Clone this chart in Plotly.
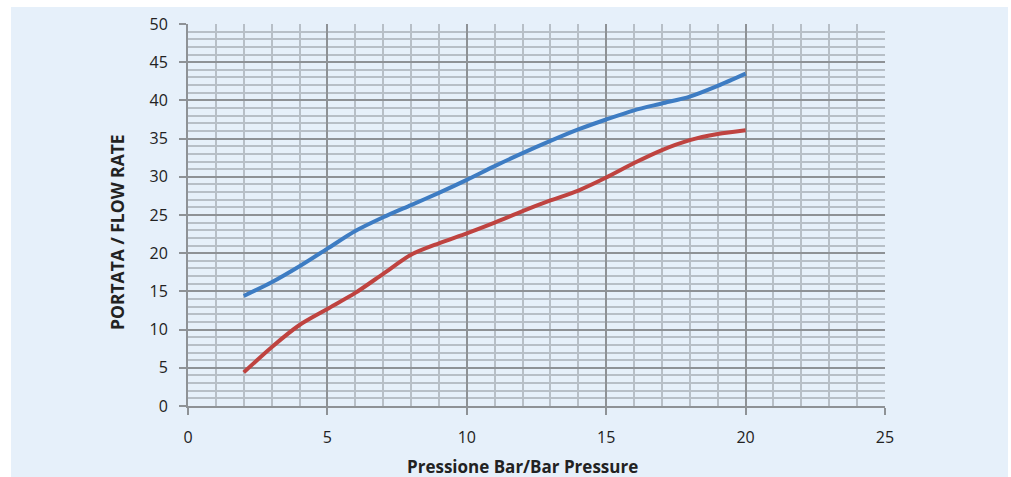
import plotly.graph_objects as go

pressure = [2, 3, 4, 5, 6, 7, 8, 9, 10, 11, 12, 13, 14, 15, 16, 17, 18, 19, 20]
flow_blue = [14.4, 16.2, 18.3, 20.6, 22.9, 24.7, 26.3, 27.9, 29.6, 31.4, 33.1, 34.7, 36.2, 37.5, 38.7, 39.6, 40.5, 41.9, 43.5]
flow_red = [4.4, 7.7, 10.6, 12.7, 14.8, 17.3, 19.8, 21.3, 22.6, 24.0, 25.5, 26.9, 28.2, 29.9, 31.8, 33.5, 34.8, 35.6, 36.1]

x_title = "Pressione Bar/Bar Pressure"
y_title = "PORTATA / FLOW RATE"

BG = "#e6f0fa"
MAJOR = "#8e9296"
MINOR = "#b7bfc7"
TXT = "#222222"

fig = go.Figure()
fig.add_trace(go.Scatter(x=pressure, y=flow_blue, mode="lines",
                         line=dict(color="#3d7cc3", width=4, shape="spline", smoothing=0.8),
                         showlegend=False, hoverinfo="skip"))
fig.add_trace(go.Scatter(x=pressure, y=flow_red, mode="lines",
                         line=dict(color="#bf4340", width=4, shape="spline", smoothing=0.8),
                         showlegend=False, hoverinfo="skip"))

W, H = 1011, 477
L, R, T, B = 188, 126, 24, 71
pw, ph = W - L - R, H - T - B

def px_x(p):
    return (p - L) / pw

def px_y(p):
    return (H - B - p) / ph

fig.add_shape(type="rect", xref="paper", yref="paper",
              x0=px_x(11), x1=px_x(1008), y0=px_y(478), y1=px_y(7),
              fillcolor=BG, line=dict(width=0), layer="below")

fig.update_layout(
    width=W, height=H,
    margin=dict(l=L, r=R, t=T, b=B, pad=0),
    paper_bgcolor="white",
    plot_bgcolor="rgba(0,0,0,0)",
    font=dict(family="Open Sans", size=16, color=TXT),
    xaxis=dict(range=[0, 25], dtick=5, tick0=0, showgrid=True, gridcolor=MAJOR, gridwidth=2,
               minor=dict(dtick=1, showgrid=True, gridcolor=MINOR, gridwidth=2),
               showline=True, linecolor=MAJOR, linewidth=2,
               ticks="outside", ticklen=7, tickcolor=MAJOR, tickwidth=2,
               ticklabelstandoff=9, zeroline=False, fixedrange=True),
    yaxis=dict(range=[0, 50], dtick=5, tick0=0, showgrid=True, gridcolor=MAJOR, gridwidth=2,
               minor=dict(dtick=1, showgrid=True, gridcolor=MINOR, gridwidth=2),
               showline=True, linecolor=MAJOR, linewidth=2,
               ticks="outside", ticklen=7, tickcolor=MAJOR, tickwidth=2,
               ticklabelstandoff=8, zeroline=False, fixedrange=True),
)

fig.add_annotation(text="<b>" + x_title + "</b>", xref="paper", yref="paper",
                   x=px_x(522), y=px_y(467), showarrow=False,
                   xanchor="center", yanchor="middle", font=dict(size=17, color=TXT))
fig.add_annotation(text="<b>" + y_title + "</b>", xref="paper", yref="paper",
                   x=px_x(117), y=px_y(232), showarrow=False, textangle=-90,
                   xanchor="center", yanchor="middle", font=dict(size=17.5, color=TXT))

fig.write_html("out.html", config={"displayModeBar": False},
               post_script="document.body.style.margin='0';document.body.style.overflow='hidden';")
